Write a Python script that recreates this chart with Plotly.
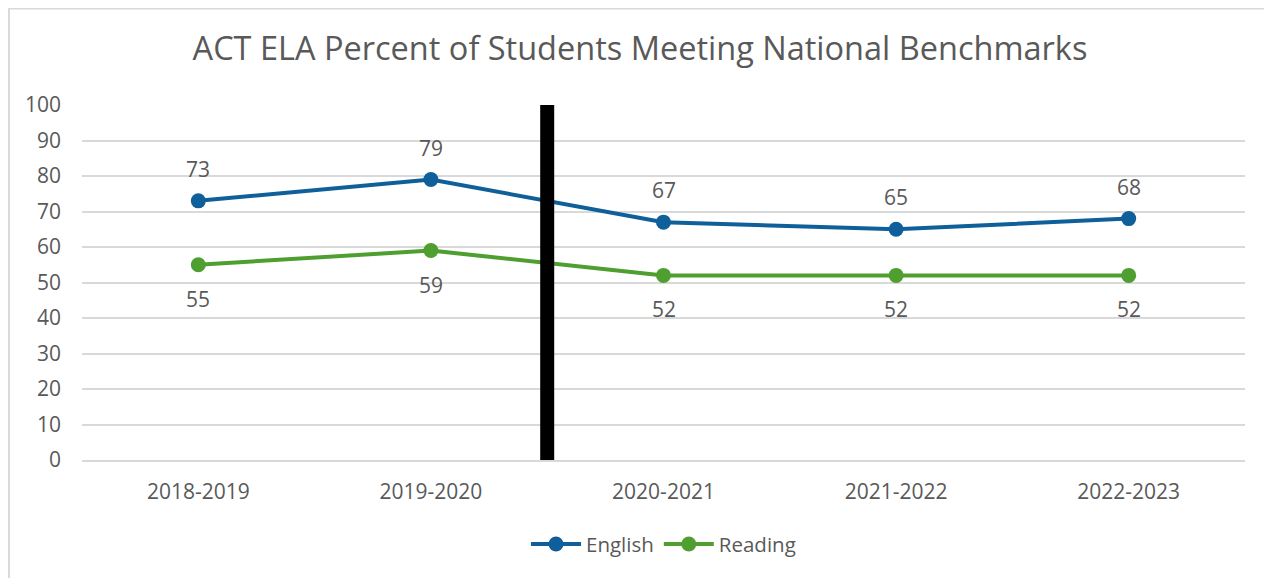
import plotly.graph_objects as go

years = ['2018-2019', '2019-2020', '2020-2021', '2021-2022', '2022-2023']
english = [73, 79, 67, 65, 68]
reading = [55, 59, 52, 52, 52]

BLUE = 'rgb(14, 95, 154)'
GREEN = 'rgb(78, 159, 47)'
GREY = 'rgb(89, 89, 89)'
LIGHT = 'rgb(217, 217, 217)'
FONT = 'Open Sans'

fig = go.Figure()

fig.add_trace(go.Scatter(
    x=years, y=english, name='English',
    mode='lines+markers',
    line=dict(color=BLUE, width=4),
    marker=dict(color=BLUE, size=15),
))
fig.add_trace(go.Scatter(
    x=years, y=reading, name='Reading',
    mode='lines+markers',
    line=dict(color=GREEN, width=4),
    marker=dict(color=GREEN, size=15),
))

# data labels: English above the points, Reading below
for yr, v in zip(years, english):
    fig.add_annotation(x=yr, y=v, text=str(v), showarrow=False, yshift=32,
                       font=dict(size=21, color=GREY, family=FONT))
for yr, v in zip(years, reading):
    fig.add_annotation(x=yr, y=v, text=str(v), showarrow=False, yshift=-34,
                       font=dict(size=21, color=GREY, family=FONT))

# thick divider between 2019-2020 and 2020-2021
fig.add_shape(type='line', xref='x', yref='y', x0=1.5, x1=1.5, y0=0, y1=100,
              line=dict(color='black', width=14), layer='above')

# light chart border (top and left edges visible)
fig.add_shape(type='line', xref='paper', yref='paper', x0=-0.0632, x1=1.0232, y0=1.2718, y1=1.2718,
              line=dict(color=LIGHT, width=2), layer='below')
fig.add_shape(type='line', xref='paper', yref='paper', x0=-0.0628, x1=-0.0628, y0=-0.3324, y1=1.2718,
              line=dict(color=LIGHT, width=2), layer='below')

fig.update_layout(
    width=1264, height=570,
    margin=dict(l=74, r=27, t=97, b=118),
    paper_bgcolor='white', plot_bgcolor='white',
    font=dict(family=FONT, color=GREY, size=21),
    title=dict(text='ACT ELA Percent of Students Meeting National Benchmarks',
               x=0.5, xanchor='center', y=0.928, yanchor='middle',
               font=dict(size=32.5, color=GREY, family=FONT)),
    legend=dict(orientation='h', x=0.5, xanchor='center', y=-0.237, yanchor='middle',
                itemwidth=50, font=dict(size=20.5, color=GREY, family=FONT)),
    xaxis=dict(type='category', range=[-0.5, 4.5], showgrid=False, showline=True,
               linecolor=LIGHT, linewidth=2, ticks='', ticklabelstandoff=12,
               tickfont=dict(size=21, color=GREY)),
    yaxis=dict(range=[0, 100], dtick=10, showgrid=True, gridcolor=LIGHT,
               gridwidth=1.5, zeroline=False, showline=False, ticks='', ticklabelstandoff=20,
               tickfont=dict(size=21, color=GREY)),
)

fig.write_html('out.html')
